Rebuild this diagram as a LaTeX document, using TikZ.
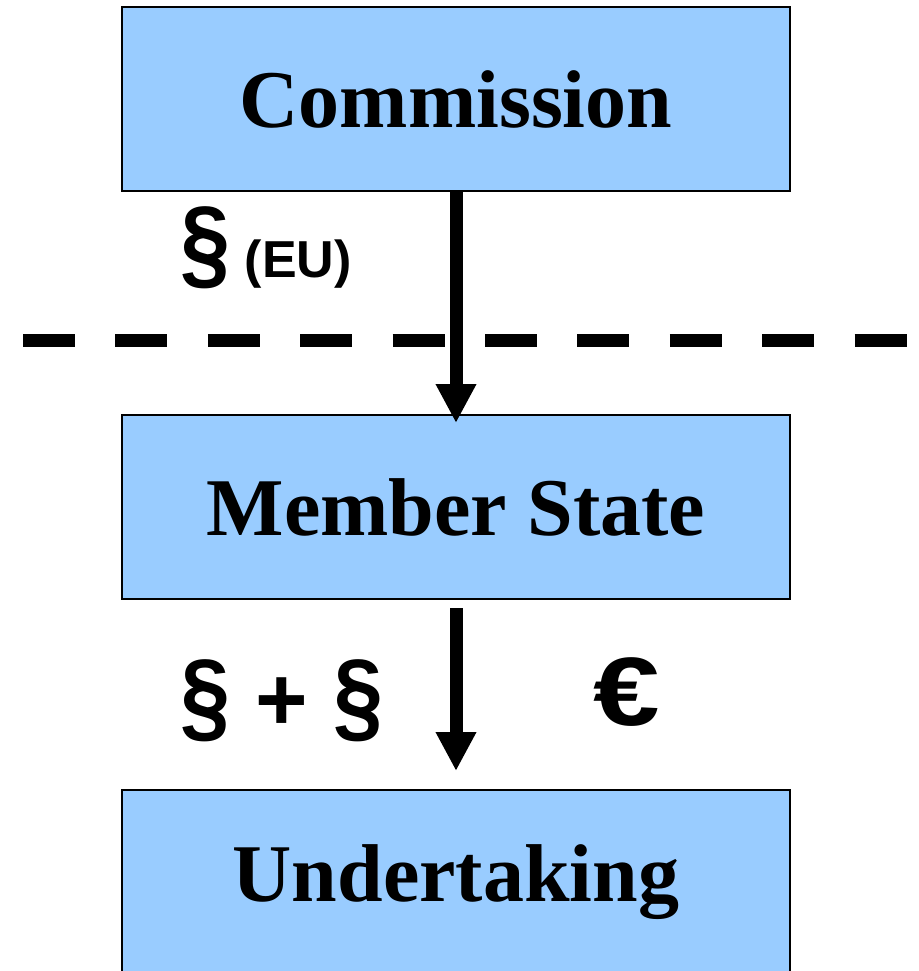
\documentclass[tikz,border=0pt]{standalone}
\usepackage{fontspec}
\setmainfont{Liberation Serif}
\newfontfamily\signfont{Liberation Sans}
\usetikzlibrary{arrows.meta}
\definecolor{boxblue}{RGB}{153,204,255}
\newcommand{\parsign}{\scalebox{1}[1.13]{§}}
\tikzset{
  level/.style={draw, line width=1pt, fill=boxblue, minimum width=334pt, minimum height=92pt, inner sep=0pt, font=\fontsize{41pt}{41pt}\selectfont\bfseries},
  pass/.style={line width=6.5pt, -{Triangle[width=19pt,length=19.5pt]}},
  sign/.style={font=\fontsize{45pt}{45pt}\selectfont\signfont\bfseries, inner sep=0pt}
}
\begin{document}
\begin{tikzpicture}[x=0.5pt,y=-0.5pt]
\useasboundingbox (0,0) rectangle (919,971);
% levels:
\node[level] (commission) at (456,99) {Commission};
\node[level] (memberstate) at (456,507) {Member State};
\node[level] (undertaking) at (456,882) {Undertaking};

% border:
\draw[line width=6.5pt, dash pattern=on 26pt off 20.2pt] (23,340.5) -- (919,340.5);

% arrows:
\draw[pass, shorten >=-4.5pt] (commission) -- (memberstate);
\draw[pass, shorten <=4pt, shorten >=9pt] (memberstate) -- (undertaking);

% signs:
\node[sign, anchor=base west] (eulaw) at (180,277) {\parsign\fontsize{26pt}{26pt}\selectfont\ (EU)};
\node[sign] (nationallaw) at (282,701) {\parsign{} + \parsign};
\node[sign] (funds) at (627,692) {\scalebox{1.33}[1.08]{€}};
\end{tikzpicture}
\end{document}
